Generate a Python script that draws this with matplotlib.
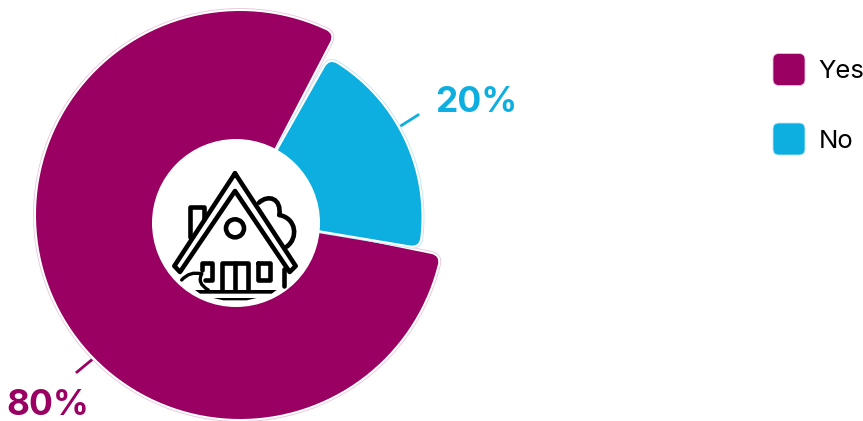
import numpy as np
import matplotlib
matplotlib.use("Agg")
from matplotlib import pyplot as plt
from matplotlib.patches import Circle, FancyBboxPatch, PathPatch, Polygon
from matplotlib.path import Path
import matplotlib.patheffects as pe

categories = ["Yes", "No"]
shares = [80, 20]
share_labels = ["80%", "20%"]
colors = ["#990061", "#0DAEE0"]
pale_colors = ["#EBC4DC", "#BDE6F6"]

W, H = 863, 421
CX, CY = 240, 215
RADII = [204, 181.5]
START = -10.5  # degrees, where the "No" slice begins
PAD = 1.0
HOLE = (236, 223, 84)
CORNER = 9
ICON_LW = 3.3


def polar(r, deg, cy=CY):
    a = np.radians(deg)
    return CX + r * np.cos(a), cy - r * np.sin(a)


def sector(r, t1, t2, cy):
    # slice with rounded outer corners, going counter clockwise from t1 to t2
    dt = np.degrees(CORNER / r)
    verts = [(CX, cy), polar(r - CORNER, t1, cy), polar(r, t1, cy), polar(r, t1 + dt, cy)]
    codes = [Path.MOVETO, Path.LINETO, Path.CURVE3, Path.CURVE3]
    for t in np.linspace(t1 + dt, t2 - dt, 120)[1:]:
        verts.append(polar(r, t, cy))
        codes.append(Path.LINETO)
    verts += [polar(r, t2, cy), polar(r - CORNER, t2, cy), (CX, cy)]
    codes += [Path.CURVE3, Path.CURVE3, Path.CLOSEPOLY]
    return Path(verts, codes)


def draw_slice(ax, r, t1, t2, color, pale, cy=CY):
    ax.add_patch(PathPatch(sector(r, t1, t2, cy), fc=color, ec="none", zorder=2,
                           path_effects=[
                               pe.Stroke(linewidth=4.2, foreground=pale),
                               pe.Stroke(linewidth=3.0, foreground="white"),
                               pe.Normal()]))


def icon_xy(points):
    # icon is sketched on a 3x grid so it scales as one unit
    return [(140 + x / 3, 130 + y / 3) for x, y in points]


def stroke(ax, points, lw=ICON_LW, closed=False):
    pts = icon_xy(points)
    if closed:
        pts = pts + pts[:1]
    xs, ys = zip(*pts)
    ax.plot(xs, ys, color="black", lw=lw, solid_joinstyle="round",
            solid_capstyle="round", zorder=5)


def smooth(ax, points, lw=ICON_LW):
    # 3 points make a quadratic curve, 4 points a cubic one
    pts = icon_xy(points)
    curve = Path.CURVE3 if len(pts) == 3 else Path.CURVE4
    codes = [Path.MOVETO] + [curve] * (len(pts) - 1)
    ax.add_patch(PathPatch(Path(pts, codes), fc="none", ec="black", lw=lw,
                           capstyle="round", zorder=5))


def draw_house(ax):
    stroke(ax, [(285, 130), (103, 408), (120, 426), (285, 183), (449, 426), (467, 408)], closed=True)
    stroke(ax, [(150, 322), (150, 231), (192, 231), (192, 268)])
    x, y = icon_xy([(285, 295)])[0]
    ax.add_patch(Circle((x, y), 27 / 3, fc="none", ec="black", lw=ICON_LW, zorder=5))
    # tree behind the roof
    smooth(ax, [(357, 218), (385, 192), (425, 205), (418, 255)])
    smooth(ax, [(418, 255), (470, 265), (475, 325), (440, 350)])
    # door and windows
    stroke(ax, [(245, 480), (245, 400), (325, 400), (325, 480)])
    stroke(ax, [(285, 400), (285, 480)])
    stroke(ax, [(185, 420), (185, 398), (217, 398), (217, 450), (196, 450)])
    stroke(ax, [(355, 398), (390, 398), (390, 450), (355, 450)], closed=True)
    stroke(ax, [(432, 418), (432, 468)])
    # bush
    smooth(ax, [(125, 450), (150, 422), (185, 432)], lw=2.4)
    smooth(ax, [(185, 432), (170, 460), (205, 480)], lw=2.4)
    # ground lines thin out toward the ends
    ax.add_patch(Polygon(icon_xy([(165, 480), (410, 480), (395, 491), (180, 491)]),
                         fc="black", ec="none", zorder=5))
    ax.add_patch(Polygon(icon_xy([(220, 504), (350, 504), (320, 511), (250, 511)]),
                         fc="black", ec="none", zorder=5))


fig = plt.figure(figsize=(W / 100, H / 100), dpi=100)
ax = fig.add_axes([0, 0, 1, 1])
ax.set_xlim(0, W)
ax.set_ylim(H, 0)
ax.axis("off")

plt.rcParams["font.family"] = ["Inter", "DejaVu Sans"]

# "No" runs counter clockwise from START, "Yes" takes the rest of the circle
no_end = START + shares[1] / sum(shares) * 360
yes_end = no_end + shares[0] / sum(shares) * 360
draw_slice(ax, RADII[0], no_end + PAD, yes_end - PAD, colors[0], pale_colors[0])
draw_slice(ax, RADII[1], START + PAD, no_end - PAD, colors[1], pale_colors[1], cy=217)

ax.add_patch(Circle(HOLE[:2], HOLE[2], fc="white", ec="none", zorder=4))
draw_house(ax)

# leader lines and value labels
ax.plot([94, 77], [358, 372], color=colors[0], lw=2.0, zorder=1)
ax.plot([399, 418], [127, 115], color=colors[1], lw=2.0, zorder=1)
ax.text(6, 415, share_labels[0], color=colors[0], fontsize=25.5, fontweight="bold",
        ha="left", va="baseline")
ax.text(435, 112, share_labels[1], color=colors[1], fontsize=25.5, fontweight="bold",
        ha="left", va="baseline")

# legend
for name, color, pale, top in zip(categories, colors, pale_colors, [53.5, 123]):
    ax.add_patch(FancyBboxPatch((779, top + 6), 20, 20, boxstyle="round,pad=6,rounding_size=6",
                                fc=color, ec=pale, lw=0.6, zorder=2))
    ax.text(818.5, top + 24.5, name, color="black", fontsize=18.5, ha="left", va="baseline",
            clip_on=False)

fig.savefig("out.png", dpi=100, facecolor="white")
